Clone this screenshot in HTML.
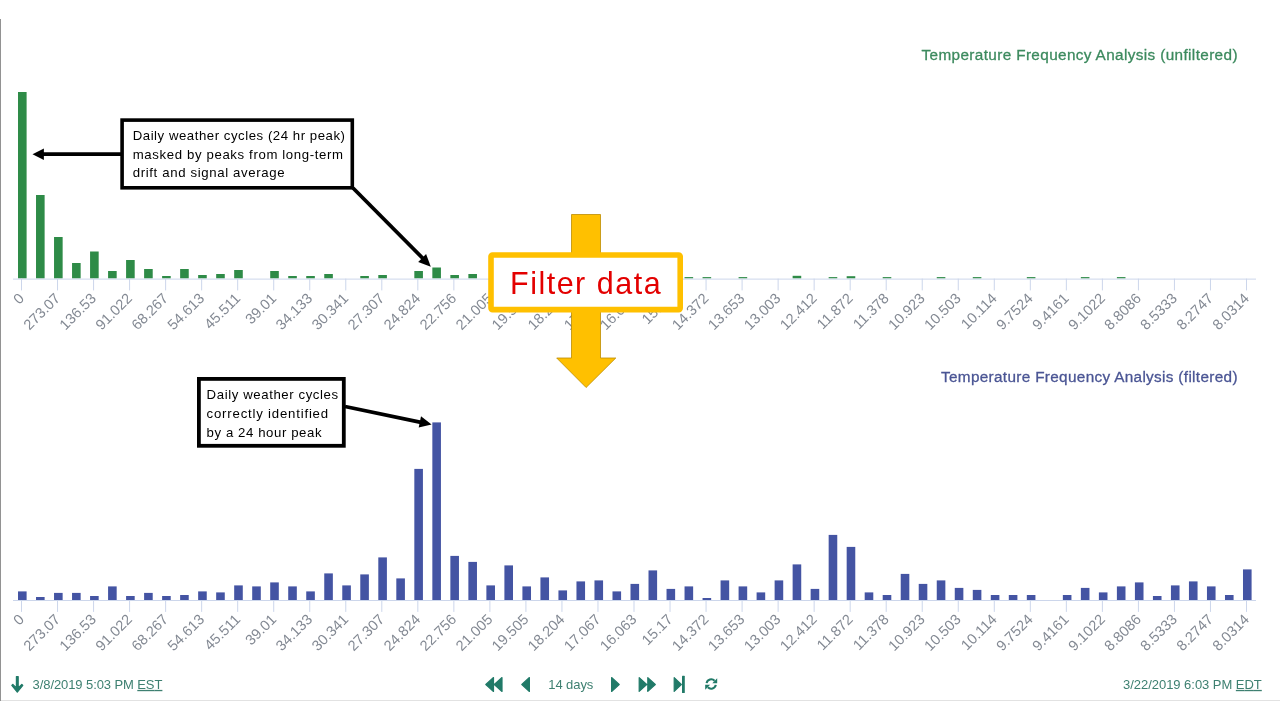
<!DOCTYPE html>
<html lang="en">
<head>
<meta charset="utf-8">
<title>Temperature Frequency Analysis</title>
<style>
html,body{margin:0;padding:0;background:#fff;}
body{width:1280px;height:720px;overflow:hidden;position:relative;font-family:"Liberation Sans",sans-serif;}
svg{position:absolute;left:0;top:0;}
text{font-family:"Liberation Sans",sans-serif;}
.xl{font-size:14.6px;fill:#838993;}
.ttl{font-size:15.3px;stroke-width:0.3px;}
.note{font-size:13.2px;fill:#000;}
.tb{font-size:13px;fill:#3e8071;}
</style>
</head>
<body>
<svg width="1280" height="720" viewBox="0 0 1280 720">
<!-- frame lines -->
<rect x="0" y="19" width="1" height="682" fill="#929292"/>
<rect x="1" y="700" width="1279" height="1" fill="#e2e2e2"/>

<!-- charts -->
<rect x="18.01" y="92.00" width="8.6" height="186.40" fill="#2e8b47"/>
<rect x="36.02" y="195.00" width="8.6" height="83.40" fill="#2e8b47"/>
<rect x="54.04" y="237.00" width="8.6" height="41.40" fill="#2e8b47"/>
<rect x="72.05" y="263.00" width="8.6" height="15.40" fill="#2e8b47"/>
<rect x="90.07" y="251.50" width="8.6" height="26.90" fill="#2e8b47"/>
<rect x="108.08" y="271.00" width="8.6" height="7.40" fill="#2e8b47"/>
<rect x="126.09" y="260.00" width="8.6" height="18.40" fill="#2e8b47"/>
<rect x="144.11" y="269.00" width="8.6" height="9.40" fill="#2e8b47"/>
<rect x="162.12" y="276.00" width="8.6" height="2.40" fill="#2e8b47"/>
<rect x="180.14" y="269.00" width="8.6" height="9.40" fill="#2e8b47"/>
<rect x="198.15" y="275.00" width="8.6" height="3.40" fill="#2e8b47"/>
<rect x="216.17" y="274.00" width="8.6" height="4.40" fill="#2e8b47"/>
<rect x="234.18" y="270.00" width="8.6" height="8.40" fill="#2e8b47"/>
<rect x="270.21" y="271.00" width="8.6" height="7.40" fill="#2e8b47"/>
<rect x="288.22" y="276.00" width="8.6" height="2.40" fill="#2e8b47"/>
<rect x="306.24" y="276.00" width="8.6" height="2.40" fill="#2e8b47"/>
<rect x="324.25" y="274.00" width="8.6" height="4.40" fill="#2e8b47"/>
<rect x="360.28" y="276.00" width="8.6" height="2.40" fill="#2e8b47"/>
<rect x="378.30" y="275.00" width="8.6" height="3.40" fill="#2e8b47"/>
<rect x="414.33" y="271.00" width="8.6" height="7.40" fill="#2e8b47"/>
<rect x="432.34" y="267.50" width="8.6" height="10.90" fill="#2e8b47"/>
<rect x="450.36" y="275.00" width="8.6" height="3.40" fill="#2e8b47"/>
<rect x="468.37" y="274.00" width="8.6" height="4.40" fill="#2e8b47"/>
<rect x="684.54" y="277.10" width="8.6" height="1.30" fill="#2e8b47"/>
<rect x="702.56" y="277.10" width="8.6" height="1.30" fill="#2e8b47"/>
<rect x="738.59" y="277.10" width="8.6" height="1.30" fill="#2e8b47"/>
<rect x="792.63" y="275.80" width="8.6" height="2.60" fill="#2e8b47"/>
<rect x="828.66" y="277.10" width="8.6" height="1.30" fill="#2e8b47"/>
<rect x="846.67" y="276.20" width="8.6" height="2.20" fill="#2e8b47"/>
<rect x="882.70" y="277.10" width="8.6" height="1.30" fill="#2e8b47"/>
<rect x="936.75" y="277.10" width="8.6" height="1.30" fill="#2e8b47"/>
<rect x="972.78" y="277.10" width="8.6" height="1.30" fill="#2e8b47"/>
<rect x="1026.82" y="277.10" width="8.6" height="1.30" fill="#2e8b47"/>
<rect x="1080.86" y="277.10" width="8.6" height="1.30" fill="#2e8b47"/>
<rect x="1116.89" y="277.10" width="8.6" height="1.30" fill="#2e8b47"/>
<rect x="13.0" y="278.6" width="1243.0" height="1" fill="#ccd6eb"/>
<rect x="21.01" y="278.6" width="1" height="11.80" fill="#ccd6eb"/>
<text x="25.01" y="299.20" transform="rotate(-45 25.01 299.20)" text-anchor="end" class="xl">0</text>
<rect x="57.04" y="278.6" width="1" height="11.80" fill="#ccd6eb"/>
<text x="61.04" y="299.20" transform="rotate(-45 61.04 299.20)" text-anchor="end" class="xl">273.07</text>
<rect x="93.07" y="278.6" width="1" height="11.80" fill="#ccd6eb"/>
<text x="97.07" y="299.20" transform="rotate(-45 97.07 299.20)" text-anchor="end" class="xl">136.53</text>
<rect x="129.09" y="278.6" width="1" height="11.80" fill="#ccd6eb"/>
<text x="133.09" y="299.20" transform="rotate(-45 133.09 299.20)" text-anchor="end" class="xl">91.022</text>
<rect x="165.12" y="278.6" width="1" height="11.80" fill="#ccd6eb"/>
<text x="169.12" y="299.20" transform="rotate(-45 169.12 299.20)" text-anchor="end" class="xl">68.267</text>
<rect x="201.15" y="278.6" width="1" height="11.80" fill="#ccd6eb"/>
<text x="205.15" y="299.20" transform="rotate(-45 205.15 299.20)" text-anchor="end" class="xl">54.613</text>
<rect x="237.18" y="278.6" width="1" height="11.80" fill="#ccd6eb"/>
<text x="241.18" y="299.20" transform="rotate(-45 241.18 299.20)" text-anchor="end" class="xl">45.511</text>
<rect x="273.21" y="278.6" width="1" height="11.80" fill="#ccd6eb"/>
<text x="277.21" y="299.20" transform="rotate(-45 277.21 299.20)" text-anchor="end" class="xl">39.01</text>
<rect x="309.24" y="278.6" width="1" height="11.80" fill="#ccd6eb"/>
<text x="313.24" y="299.20" transform="rotate(-45 313.24 299.20)" text-anchor="end" class="xl">34.133</text>
<rect x="345.27" y="278.6" width="1" height="11.80" fill="#ccd6eb"/>
<text x="349.27" y="299.20" transform="rotate(-45 349.27 299.20)" text-anchor="end" class="xl">30.341</text>
<rect x="381.30" y="278.6" width="1" height="11.80" fill="#ccd6eb"/>
<text x="385.30" y="299.20" transform="rotate(-45 385.30 299.20)" text-anchor="end" class="xl">27.307</text>
<rect x="417.33" y="278.6" width="1" height="11.80" fill="#ccd6eb"/>
<text x="421.33" y="299.20" transform="rotate(-45 421.33 299.20)" text-anchor="end" class="xl">24.824</text>
<rect x="453.36" y="278.6" width="1" height="11.80" fill="#ccd6eb"/>
<text x="457.36" y="299.20" transform="rotate(-45 457.36 299.20)" text-anchor="end" class="xl">22.756</text>
<rect x="489.38" y="278.6" width="1" height="11.80" fill="#ccd6eb"/>
<text x="493.38" y="299.20" transform="rotate(-45 493.38 299.20)" text-anchor="end" class="xl">21.005</text>
<rect x="525.41" y="278.6" width="1" height="11.80" fill="#ccd6eb"/>
<text x="529.41" y="299.20" transform="rotate(-45 529.41 299.20)" text-anchor="end" class="xl">19.505</text>
<rect x="561.44" y="278.6" width="1" height="11.80" fill="#ccd6eb"/>
<text x="565.44" y="299.20" transform="rotate(-45 565.44 299.20)" text-anchor="end" class="xl">18.204</text>
<rect x="597.47" y="278.6" width="1" height="11.80" fill="#ccd6eb"/>
<text x="601.47" y="299.20" transform="rotate(-45 601.47 299.20)" text-anchor="end" class="xl">17.067</text>
<rect x="633.50" y="278.6" width="1" height="11.80" fill="#ccd6eb"/>
<text x="637.50" y="299.20" transform="rotate(-45 637.50 299.20)" text-anchor="end" class="xl">16.063</text>
<rect x="669.53" y="278.6" width="1" height="11.80" fill="#ccd6eb"/>
<text x="673.53" y="299.20" transform="rotate(-45 673.53 299.20)" text-anchor="end" class="xl">15.17</text>
<rect x="705.56" y="278.6" width="1" height="11.80" fill="#ccd6eb"/>
<text x="709.56" y="299.20" transform="rotate(-45 709.56 299.20)" text-anchor="end" class="xl">14.372</text>
<rect x="741.59" y="278.6" width="1" height="11.80" fill="#ccd6eb"/>
<text x="745.59" y="299.20" transform="rotate(-45 745.59 299.20)" text-anchor="end" class="xl">13.653</text>
<rect x="777.62" y="278.6" width="1" height="11.80" fill="#ccd6eb"/>
<text x="781.62" y="299.20" transform="rotate(-45 781.62 299.20)" text-anchor="end" class="xl">13.003</text>
<rect x="813.64" y="278.6" width="1" height="11.80" fill="#ccd6eb"/>
<text x="817.64" y="299.20" transform="rotate(-45 817.64 299.20)" text-anchor="end" class="xl">12.412</text>
<rect x="849.67" y="278.6" width="1" height="11.80" fill="#ccd6eb"/>
<text x="853.67" y="299.20" transform="rotate(-45 853.67 299.20)" text-anchor="end" class="xl">11.872</text>
<rect x="885.70" y="278.6" width="1" height="11.80" fill="#ccd6eb"/>
<text x="889.70" y="299.20" transform="rotate(-45 889.70 299.20)" text-anchor="end" class="xl">11.378</text>
<rect x="921.73" y="278.6" width="1" height="11.80" fill="#ccd6eb"/>
<text x="925.73" y="299.20" transform="rotate(-45 925.73 299.20)" text-anchor="end" class="xl">10.923</text>
<rect x="957.76" y="278.6" width="1" height="11.80" fill="#ccd6eb"/>
<text x="961.76" y="299.20" transform="rotate(-45 961.76 299.20)" text-anchor="end" class="xl">10.503</text>
<rect x="993.79" y="278.6" width="1" height="11.80" fill="#ccd6eb"/>
<text x="997.79" y="299.20" transform="rotate(-45 997.79 299.20)" text-anchor="end" class="xl">10.114</text>
<rect x="1029.82" y="278.6" width="1" height="11.80" fill="#ccd6eb"/>
<text x="1033.82" y="299.20" transform="rotate(-45 1033.82 299.20)" text-anchor="end" class="xl">9.7524</text>
<rect x="1065.85" y="278.6" width="1" height="11.80" fill="#ccd6eb"/>
<text x="1069.85" y="299.20" transform="rotate(-45 1069.85 299.20)" text-anchor="end" class="xl">9.4161</text>
<rect x="1101.88" y="278.6" width="1" height="11.80" fill="#ccd6eb"/>
<text x="1105.88" y="299.20" transform="rotate(-45 1105.88 299.20)" text-anchor="end" class="xl">9.1022</text>
<rect x="1137.91" y="278.6" width="1" height="11.80" fill="#ccd6eb"/>
<text x="1141.91" y="299.20" transform="rotate(-45 1141.91 299.20)" text-anchor="end" class="xl">8.8086</text>
<rect x="1173.93" y="278.6" width="1" height="11.80" fill="#ccd6eb"/>
<text x="1177.93" y="299.20" transform="rotate(-45 1177.93 299.20)" text-anchor="end" class="xl">8.5333</text>
<rect x="1209.96" y="278.6" width="1" height="11.80" fill="#ccd6eb"/>
<text x="1213.96" y="299.20" transform="rotate(-45 1213.96 299.20)" text-anchor="end" class="xl">8.2747</text>
<rect x="1245.99" y="278.6" width="1" height="11.80" fill="#ccd6eb"/>
<text x="1249.99" y="299.20" transform="rotate(-45 1249.99 299.20)" text-anchor="end" class="xl">8.0314</text>
<rect x="18.01" y="591.40" width="8.6" height="8.60" fill="#4454a3"/>
<rect x="36.02" y="597.00" width="8.6" height="3.00" fill="#4454a3"/>
<rect x="54.04" y="592.90" width="8.6" height="7.10" fill="#4454a3"/>
<rect x="72.05" y="592.90" width="8.6" height="7.10" fill="#4454a3"/>
<rect x="90.07" y="596.00" width="8.6" height="4.00" fill="#4454a3"/>
<rect x="108.08" y="586.40" width="8.6" height="13.60" fill="#4454a3"/>
<rect x="126.09" y="596.00" width="8.6" height="4.00" fill="#4454a3"/>
<rect x="144.11" y="592.90" width="8.6" height="7.10" fill="#4454a3"/>
<rect x="162.12" y="596.00" width="8.6" height="4.00" fill="#4454a3"/>
<rect x="180.14" y="595.00" width="8.6" height="5.00" fill="#4454a3"/>
<rect x="198.15" y="591.40" width="8.6" height="8.60" fill="#4454a3"/>
<rect x="216.17" y="592.40" width="8.6" height="7.60" fill="#4454a3"/>
<rect x="234.18" y="585.40" width="8.6" height="14.60" fill="#4454a3"/>
<rect x="252.20" y="586.40" width="8.6" height="13.60" fill="#4454a3"/>
<rect x="270.21" y="582.40" width="8.6" height="17.60" fill="#4454a3"/>
<rect x="288.22" y="586.40" width="8.6" height="13.60" fill="#4454a3"/>
<rect x="306.24" y="591.40" width="8.6" height="8.60" fill="#4454a3"/>
<rect x="324.25" y="573.40" width="8.6" height="26.60" fill="#4454a3"/>
<rect x="342.27" y="585.40" width="8.6" height="14.60" fill="#4454a3"/>
<rect x="360.28" y="574.40" width="8.6" height="25.60" fill="#4454a3"/>
<rect x="378.30" y="557.40" width="8.6" height="42.60" fill="#4454a3"/>
<rect x="396.31" y="578.40" width="8.6" height="21.60" fill="#4454a3"/>
<rect x="414.33" y="468.90" width="8.6" height="131.10" fill="#4454a3"/>
<rect x="432.34" y="422.40" width="8.6" height="177.60" fill="#4454a3"/>
<rect x="450.36" y="555.90" width="8.6" height="44.10" fill="#4454a3"/>
<rect x="468.37" y="561.90" width="8.6" height="38.10" fill="#4454a3"/>
<rect x="486.38" y="585.40" width="8.6" height="14.60" fill="#4454a3"/>
<rect x="504.40" y="565.40" width="8.6" height="34.60" fill="#4454a3"/>
<rect x="522.41" y="586.40" width="8.6" height="13.60" fill="#4454a3"/>
<rect x="540.43" y="577.40" width="8.6" height="22.60" fill="#4454a3"/>
<rect x="558.44" y="590.40" width="8.6" height="9.60" fill="#4454a3"/>
<rect x="576.46" y="581.40" width="8.6" height="18.60" fill="#4454a3"/>
<rect x="594.47" y="580.40" width="8.6" height="19.60" fill="#4454a3"/>
<rect x="612.49" y="591.40" width="8.6" height="8.60" fill="#4454a3"/>
<rect x="630.50" y="583.90" width="8.6" height="16.10" fill="#4454a3"/>
<rect x="648.51" y="570.40" width="8.6" height="29.60" fill="#4454a3"/>
<rect x="666.53" y="588.90" width="8.6" height="11.10" fill="#4454a3"/>
<rect x="684.54" y="586.40" width="8.6" height="13.60" fill="#4454a3"/>
<rect x="702.56" y="598.00" width="8.6" height="2.00" fill="#4454a3"/>
<rect x="720.57" y="580.40" width="8.6" height="19.60" fill="#4454a3"/>
<rect x="738.59" y="586.40" width="8.6" height="13.60" fill="#4454a3"/>
<rect x="756.60" y="592.40" width="8.6" height="7.60" fill="#4454a3"/>
<rect x="774.62" y="580.40" width="8.6" height="19.60" fill="#4454a3"/>
<rect x="792.63" y="564.40" width="8.6" height="35.60" fill="#4454a3"/>
<rect x="810.64" y="588.90" width="8.6" height="11.10" fill="#4454a3"/>
<rect x="828.66" y="534.90" width="8.6" height="65.10" fill="#4454a3"/>
<rect x="846.67" y="546.90" width="8.6" height="53.10" fill="#4454a3"/>
<rect x="864.69" y="592.40" width="8.6" height="7.60" fill="#4454a3"/>
<rect x="882.70" y="595.00" width="8.6" height="5.00" fill="#4454a3"/>
<rect x="900.72" y="573.90" width="8.6" height="26.10" fill="#4454a3"/>
<rect x="918.73" y="583.90" width="8.6" height="16.10" fill="#4454a3"/>
<rect x="936.75" y="580.40" width="8.6" height="19.60" fill="#4454a3"/>
<rect x="954.76" y="587.90" width="8.6" height="12.10" fill="#4454a3"/>
<rect x="972.78" y="589.90" width="8.6" height="10.10" fill="#4454a3"/>
<rect x="990.79" y="595.00" width="8.6" height="5.00" fill="#4454a3"/>
<rect x="1008.80" y="595.00" width="8.6" height="5.00" fill="#4454a3"/>
<rect x="1026.82" y="595.00" width="8.6" height="5.00" fill="#4454a3"/>
<rect x="1062.85" y="595.00" width="8.6" height="5.00" fill="#4454a3"/>
<rect x="1080.86" y="587.90" width="8.6" height="12.10" fill="#4454a3"/>
<rect x="1098.88" y="592.40" width="8.6" height="7.60" fill="#4454a3"/>
<rect x="1116.89" y="586.40" width="8.6" height="13.60" fill="#4454a3"/>
<rect x="1134.91" y="582.40" width="8.6" height="17.60" fill="#4454a3"/>
<rect x="1152.92" y="596.00" width="8.6" height="4.00" fill="#4454a3"/>
<rect x="1170.93" y="585.40" width="8.6" height="14.60" fill="#4454a3"/>
<rect x="1188.95" y="581.40" width="8.6" height="18.60" fill="#4454a3"/>
<rect x="1206.96" y="586.40" width="8.6" height="13.60" fill="#4454a3"/>
<rect x="1224.98" y="595.00" width="8.6" height="5.00" fill="#4454a3"/>
<rect x="1242.99" y="569.40" width="8.6" height="30.60" fill="#4454a3"/>
<rect x="13.0" y="600" width="1243.0" height="1" fill="#ccd6eb"/>
<rect x="21.01" y="600" width="1" height="11.90" fill="#ccd6eb"/>
<text x="25.01" y="620.20" transform="rotate(-45 25.01 620.20)" text-anchor="end" class="xl">0</text>
<rect x="57.04" y="600" width="1" height="11.90" fill="#ccd6eb"/>
<text x="61.04" y="620.20" transform="rotate(-45 61.04 620.20)" text-anchor="end" class="xl">273.07</text>
<rect x="93.07" y="600" width="1" height="11.90" fill="#ccd6eb"/>
<text x="97.07" y="620.20" transform="rotate(-45 97.07 620.20)" text-anchor="end" class="xl">136.53</text>
<rect x="129.09" y="600" width="1" height="11.90" fill="#ccd6eb"/>
<text x="133.09" y="620.20" transform="rotate(-45 133.09 620.20)" text-anchor="end" class="xl">91.022</text>
<rect x="165.12" y="600" width="1" height="11.90" fill="#ccd6eb"/>
<text x="169.12" y="620.20" transform="rotate(-45 169.12 620.20)" text-anchor="end" class="xl">68.267</text>
<rect x="201.15" y="600" width="1" height="11.90" fill="#ccd6eb"/>
<text x="205.15" y="620.20" transform="rotate(-45 205.15 620.20)" text-anchor="end" class="xl">54.613</text>
<rect x="237.18" y="600" width="1" height="11.90" fill="#ccd6eb"/>
<text x="241.18" y="620.20" transform="rotate(-45 241.18 620.20)" text-anchor="end" class="xl">45.511</text>
<rect x="273.21" y="600" width="1" height="11.90" fill="#ccd6eb"/>
<text x="277.21" y="620.20" transform="rotate(-45 277.21 620.20)" text-anchor="end" class="xl">39.01</text>
<rect x="309.24" y="600" width="1" height="11.90" fill="#ccd6eb"/>
<text x="313.24" y="620.20" transform="rotate(-45 313.24 620.20)" text-anchor="end" class="xl">34.133</text>
<rect x="345.27" y="600" width="1" height="11.90" fill="#ccd6eb"/>
<text x="349.27" y="620.20" transform="rotate(-45 349.27 620.20)" text-anchor="end" class="xl">30.341</text>
<rect x="381.30" y="600" width="1" height="11.90" fill="#ccd6eb"/>
<text x="385.30" y="620.20" transform="rotate(-45 385.30 620.20)" text-anchor="end" class="xl">27.307</text>
<rect x="417.33" y="600" width="1" height="11.90" fill="#ccd6eb"/>
<text x="421.33" y="620.20" transform="rotate(-45 421.33 620.20)" text-anchor="end" class="xl">24.824</text>
<rect x="453.36" y="600" width="1" height="11.90" fill="#ccd6eb"/>
<text x="457.36" y="620.20" transform="rotate(-45 457.36 620.20)" text-anchor="end" class="xl">22.756</text>
<rect x="489.38" y="600" width="1" height="11.90" fill="#ccd6eb"/>
<text x="493.38" y="620.20" transform="rotate(-45 493.38 620.20)" text-anchor="end" class="xl">21.005</text>
<rect x="525.41" y="600" width="1" height="11.90" fill="#ccd6eb"/>
<text x="529.41" y="620.20" transform="rotate(-45 529.41 620.20)" text-anchor="end" class="xl">19.505</text>
<rect x="561.44" y="600" width="1" height="11.90" fill="#ccd6eb"/>
<text x="565.44" y="620.20" transform="rotate(-45 565.44 620.20)" text-anchor="end" class="xl">18.204</text>
<rect x="597.47" y="600" width="1" height="11.90" fill="#ccd6eb"/>
<text x="601.47" y="620.20" transform="rotate(-45 601.47 620.20)" text-anchor="end" class="xl">17.067</text>
<rect x="633.50" y="600" width="1" height="11.90" fill="#ccd6eb"/>
<text x="637.50" y="620.20" transform="rotate(-45 637.50 620.20)" text-anchor="end" class="xl">16.063</text>
<rect x="669.53" y="600" width="1" height="11.90" fill="#ccd6eb"/>
<text x="673.53" y="620.20" transform="rotate(-45 673.53 620.20)" text-anchor="end" class="xl">15.17</text>
<rect x="705.56" y="600" width="1" height="11.90" fill="#ccd6eb"/>
<text x="709.56" y="620.20" transform="rotate(-45 709.56 620.20)" text-anchor="end" class="xl">14.372</text>
<rect x="741.59" y="600" width="1" height="11.90" fill="#ccd6eb"/>
<text x="745.59" y="620.20" transform="rotate(-45 745.59 620.20)" text-anchor="end" class="xl">13.653</text>
<rect x="777.62" y="600" width="1" height="11.90" fill="#ccd6eb"/>
<text x="781.62" y="620.20" transform="rotate(-45 781.62 620.20)" text-anchor="end" class="xl">13.003</text>
<rect x="813.64" y="600" width="1" height="11.90" fill="#ccd6eb"/>
<text x="817.64" y="620.20" transform="rotate(-45 817.64 620.20)" text-anchor="end" class="xl">12.412</text>
<rect x="849.67" y="600" width="1" height="11.90" fill="#ccd6eb"/>
<text x="853.67" y="620.20" transform="rotate(-45 853.67 620.20)" text-anchor="end" class="xl">11.872</text>
<rect x="885.70" y="600" width="1" height="11.90" fill="#ccd6eb"/>
<text x="889.70" y="620.20" transform="rotate(-45 889.70 620.20)" text-anchor="end" class="xl">11.378</text>
<rect x="921.73" y="600" width="1" height="11.90" fill="#ccd6eb"/>
<text x="925.73" y="620.20" transform="rotate(-45 925.73 620.20)" text-anchor="end" class="xl">10.923</text>
<rect x="957.76" y="600" width="1" height="11.90" fill="#ccd6eb"/>
<text x="961.76" y="620.20" transform="rotate(-45 961.76 620.20)" text-anchor="end" class="xl">10.503</text>
<rect x="993.79" y="600" width="1" height="11.90" fill="#ccd6eb"/>
<text x="997.79" y="620.20" transform="rotate(-45 997.79 620.20)" text-anchor="end" class="xl">10.114</text>
<rect x="1029.82" y="600" width="1" height="11.90" fill="#ccd6eb"/>
<text x="1033.82" y="620.20" transform="rotate(-45 1033.82 620.20)" text-anchor="end" class="xl">9.7524</text>
<rect x="1065.85" y="600" width="1" height="11.90" fill="#ccd6eb"/>
<text x="1069.85" y="620.20" transform="rotate(-45 1069.85 620.20)" text-anchor="end" class="xl">9.4161</text>
<rect x="1101.88" y="600" width="1" height="11.90" fill="#ccd6eb"/>
<text x="1105.88" y="620.20" transform="rotate(-45 1105.88 620.20)" text-anchor="end" class="xl">9.1022</text>
<rect x="1137.91" y="600" width="1" height="11.90" fill="#ccd6eb"/>
<text x="1141.91" y="620.20" transform="rotate(-45 1141.91 620.20)" text-anchor="end" class="xl">8.8086</text>
<rect x="1173.93" y="600" width="1" height="11.90" fill="#ccd6eb"/>
<text x="1177.93" y="620.20" transform="rotate(-45 1177.93 620.20)" text-anchor="end" class="xl">8.5333</text>
<rect x="1209.96" y="600" width="1" height="11.90" fill="#ccd6eb"/>
<text x="1213.96" y="620.20" transform="rotate(-45 1213.96 620.20)" text-anchor="end" class="xl">8.2747</text>
<rect x="1245.99" y="600" width="1" height="11.90" fill="#ccd6eb"/>
<text x="1249.99" y="620.20" transform="rotate(-45 1249.99 620.20)" text-anchor="end" class="xl">8.0314</text>

<!-- titles -->
<text x="1237.5" y="60" text-anchor="end" class="ttl" fill="#3c8a5e" stroke="#3c8a5e" textLength="316" lengthAdjust="spacing">Temperature Frequency Analysis (unfiltered)</text>
<text x="1237.5" y="381.8" text-anchor="end" class="ttl" fill="#4a5594" stroke="#4a5594" textLength="296.5" lengthAdjust="spacing">Temperature Frequency Analysis (filtered)</text>

<!-- big yellow arrow -->
<path d="M571.5 214.5 H600.5 V358 H615.8 L586.1 387.5 L556.7 358 H571.5 Z" fill="#ffc000" stroke="#bc8c00" stroke-width="0.8" stroke-linejoin="miter"/>

<!-- filter box -->
<rect x="491" y="255" width="189.2" height="54.6" rx="1.5" ry="1.5" fill="#ffffff" stroke="#ffc000" stroke-width="5.6"/>
<text x="510" y="294.4" font-size="30.5" letter-spacing="1.5" fill="#e30000">Filter data</text>

<!-- annotation 1 -->
<line x1="121" y1="154.2" x2="42" y2="154.2" stroke="#000" stroke-width="3.75"/>
<path d="M32.5 154.2 L43.9 148.4 V160 Z" fill="#000"/>
<line x1="353" y1="188" x2="424" y2="259.5" stroke="#000" stroke-width="3.75"/>
<path d="M430.8 266.7 L418.2 261.9 L426.1 254.1 Z" fill="#000"/>
<rect x="122.1" y="120.1" width="230.2" height="67.7" fill="#fff" stroke="#000" stroke-width="3.6"/>
<text class="note" x="132.7" y="140.2" textLength="212.3" lengthAdjust="spacing">Daily weather cycles (24 hr peak)</text>
<text class="note" x="132.7" y="158.8" textLength="210.4" lengthAdjust="spacing">masked by peaks from long-term</text>
<text class="note" x="132.7" y="177.3" textLength="151.9" lengthAdjust="spacing">drift and signal average</text>

<!-- annotation 2 -->
<line x1="345" y1="406.5" x2="421" y2="422.3" stroke="#000" stroke-width="3.75"/>
<path d="M431.6 424.5 L418.7 427.6 L421 416.3 Z" fill="#000"/>
<rect x="198.9" y="378.9" width="144.9" height="66.9" fill="#fff" stroke="#000" stroke-width="3.8"/>
<text class="note" x="206.6" y="398.7" textLength="131.5" lengthAdjust="spacing">Daily weather cycles</text>
<text class="note" x="206.6" y="417.6" textLength="121.5" lengthAdjust="spacing">correctly identified</text>
<text class="note" x="206.6" y="436.5" textLength="114.9" lengthAdjust="spacing">by a 24 hour peak</text>

<!-- toolbar -->
<g fill="#217a68" stroke="#217a68" stroke-width="1.2" stroke-linejoin="round">
<path d="M16.4 676.6 H18.2 V687.9 L21.8 684.3 L22.8 685.4 L17.3 692.2 L11.8 685.4 L12.8 684.3 L16.4 687.9 Z"/>
<path d="M485.80 684.5 L493.50 677.55 V691.45 Z M494.30 684.5 L502.00 677.55 V691.45 Z"/>
<path d="M521.79 684.5 L529.40 677.56 V691.44 Z"/>
<path d="M619.21 684.5 L611.60 677.56 V691.44 Z"/>
<path d="M646.71 684.5 L639.20 677.57 V691.43 Z M655.31 684.5 L647.80 677.57 V691.43 Z"/>
<path d="M681.34 684.5 L674.20 677.61 V691.39 Z"/>
</g>
<rect x="682" y="675.7" width="2.8" height="17.3" rx="0.6" fill="#217a68"/>
<g fill="none" stroke="#217a68" stroke-width="2.1">
<path d="M706.6 683.1 A4.7 4.7 0 0 1 714.6 680.7"/>
<path d="M715.8 684.9 A4.7 4.7 0 0 1 707.8 687.3"/>
</g>
<g fill="#217a68">
<path d="M717.2 678.3 V683.2 H712.3 Z"/>
<path d="M705.2 689.7 V684.8 H710.1 Z"/>
</g>
<text class="tb" x="32.6" y="688.9" textLength="129.8" lengthAdjust="spacing">3/8/2019 5:03 PM <tspan text-decoration="underline">EST</tspan></text>
<text class="tb" x="548.3" y="688.9" textLength="45" lengthAdjust="spacing">14 days</text>
<text class="tb" x="1261.8" y="688.9" text-anchor="end" textLength="138.8" lengthAdjust="spacing">3/22/2019 6:03 PM <tspan text-decoration="underline">EDT</tspan></text>
</svg>
</body>
</html>
